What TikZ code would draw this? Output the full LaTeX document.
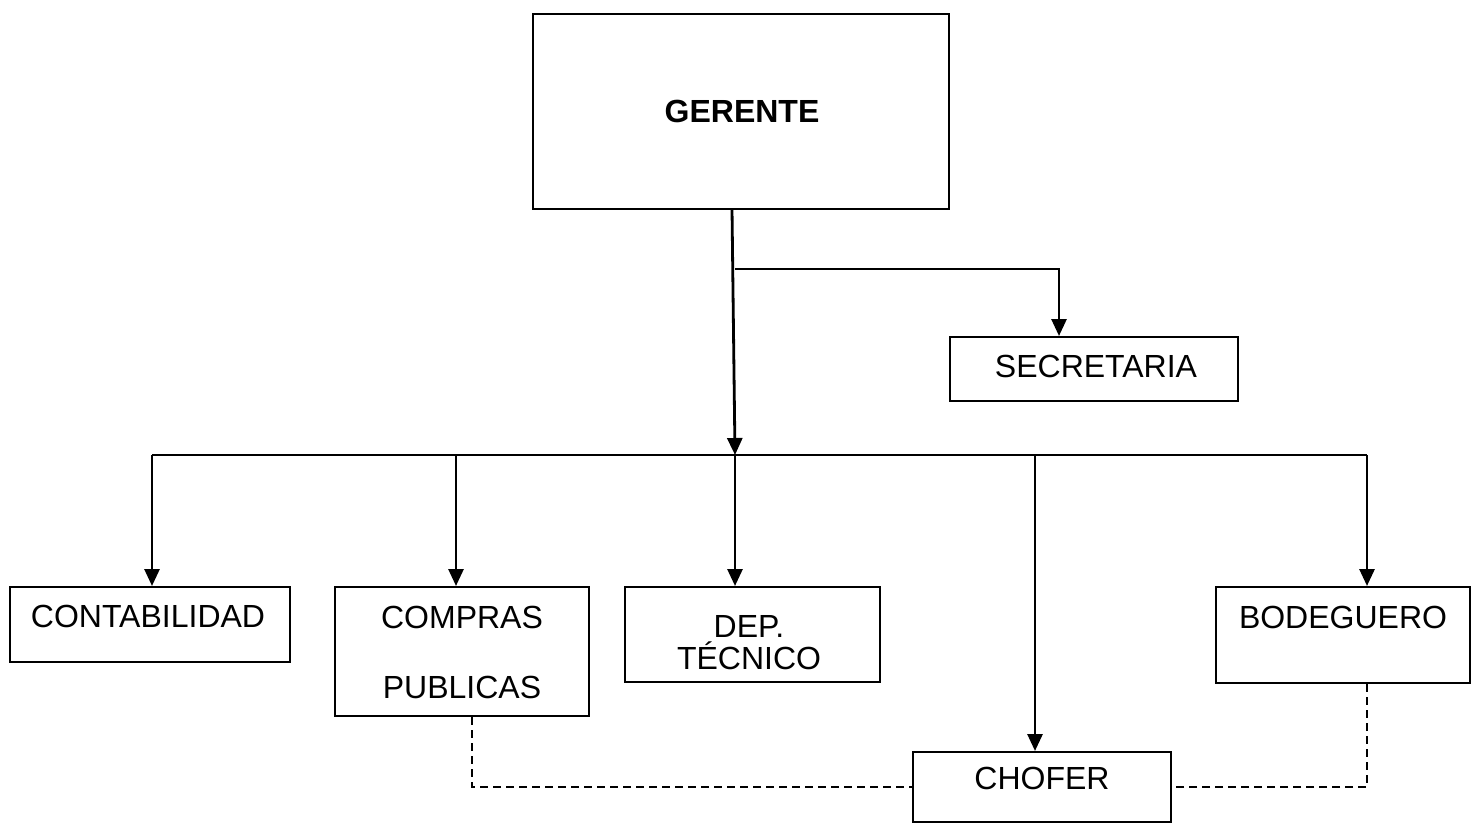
\documentclass[tikz,border=0pt]{standalone}
\usepackage{fontspec}
\setmainfont{Liberation Sans}
\usetikzlibrary{arrows.meta}
\begin{document}
\begin{tikzpicture}[x=1pt,y=-1pt,
  box/.style={draw, line width=2pt, rectangle, inner sep=0pt},
  lbl/.style={inner sep=0pt, anchor=base, font=\fontsize{32}{38}\selectfont},
  link/.style={line width=2.8pt, -{Triangle[length=17pt,width=15pt]}},
  bus/.style={line width=2.6pt},
  aux/.style={line width=2pt, dash pattern=on 8pt off 5pt}]
\useasboundingbox (0,0) rectangle (1479,824);

% boxes
\node[box, minimum width=416pt, minimum height=195pt] (ger) at (741,111.5) {};
\node[box, minimum width=288pt, minimum height=64pt]  (sec) at (1094,369) {};
\node[box, minimum width=280pt, minimum height=75pt]  (con) at (150,624.5) {};
\node[box, minimum width=254pt, minimum height=129pt] (cmp) at (462,651.5) {};
\node[box, minimum width=255pt, minimum height=95pt]  (dep) at (752.5,634.5) {};
\node[box, minimum width=254pt, minimum height=96pt]  (bod) at (1343,635) {};
\node[box, minimum width=258pt, minimum height=70pt]  (cho) at (1042,787) {};

% labels
\node[lbl, font=\fontsize{32}{38}\selectfont\bfseries] (gerT) at (742,122) {GERENTE};
\node[lbl] (secT)  at (1096,377) {SECRETARIA};
\node[lbl] (conT)  at (148,627) {CONTABILIDAD};
\node[lbl] (cmpT1) at (462,628) {COMPRAS};
\node[lbl] (cmpT2) at (462,698) {PUBLICAS};
\node[lbl] (depT1) at (749,637) {DEP.};
\node[lbl] (depT2) at (749,669) {TÉCNICO};
\node[lbl] (bodT)  at (1343,628) {BODEGUERO};
\node[lbl] (choT)  at (1042,789) {CHOFER};

% junction points
\coordinate (top)  at (732,209);
\coordinate (tap)  at (735,269);
\coordinate (b1) at (152,455);
\coordinate (b2) at (456,455);
\coordinate (b3) at (735,455);
\coordinate (b4) at (1035,455);
\coordinate (b5) at (1367,455);

% main stem and secretary branch
\draw[link] (top) -- (b3);
\draw[link] (tap) -| ([xshift=-35pt]sec.north);

% distribution bus
\draw[bus] (b1) -- (b5);
\draw[link] (b1) -- (b1 |- con.north);
\draw[link] (b2) -- (b2 |- cmp.north);
\draw[link] (b3) -- (b3 |- dep.north);
\draw[link] (b4) -- (b4 |- cho.north);
\draw[link] (b5) -- (b5 |- bod.north);

% dashed coordination lines to the driver
\draw[aux] ([xshift=10pt]cmp.south) |- (cho.west);
\draw[aux] ([xshift=24pt]bod.south) |- (cho.east);
\end{tikzpicture}
\end{document}
